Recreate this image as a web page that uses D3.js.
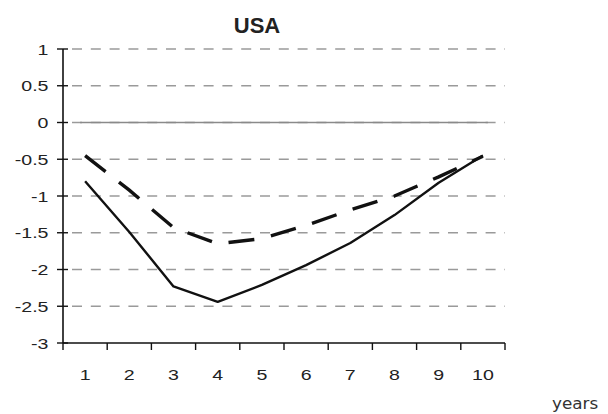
<!DOCTYPE html>
<html>
<head>
<meta charset="utf-8">
<script src="https://cdn.jsdelivr.net/npm/d3@7/dist/d3.min.js"></script>
<style>
  html, body { margin: 0; padding: 0; background: #fff; }
  svg { display: block; }
</style>
</head>
<body>
<svg id="chart" width="608" height="414"></svg>
<script>
// Years after the shock
const years = [1, 2, 3, 4, 5, 6, 7, 8, 9, 10];
// Response paths (percent deviation)
const solidSeries = [-0.80, -1.49, -2.23, -2.44, -2.21, -1.94, -1.64, -1.26, -0.82, -0.45];
const dashedSeries = [-0.45, -0.92, -1.43, -1.65, -1.58, -1.40, -1.19, -1.00, -0.74, -0.46];
// Zero reference line
const zeroSeries = [0, 0, 0, 0, 0, 0, 0, 0, 0, 0];
// Value axis ticks
const yTicks = [1, 0.5, 0, -0.5, -1, -1.5, -2, -2.5, -3];

const svg = d3.select("#chart");
const plot = { left: 63, right: 505, top: 49, bottom: 343 };
const labelStretch = 1.35;

const x = d3.scaleBand().domain(years).range([plot.left, plot.right]);
const y = d3.scaleLinear().domain([-3, 1]).range([plot.bottom, plot.top]);
const cx = d => x(d) + x.bandwidth() / 2;

// dashed gridlines
svg.append("g").selectAll("line")
  .data(yTicks.filter(t => t !== -3))
  .join("line")
  .attr("x1", plot.left).attr("x2", plot.right)
  .attr("y1", d => y(d)).attr("y2", d => y(d))
  .attr("stroke", "#9a9a9a")
  .attr("stroke-width", 1.6)
  .attr("stroke-dasharray", "10,8.8")
  .attr("stroke-dashoffset", -9);

// zero reference line
svg.append("line")
  .attr("x1", cx(years[0]) - 5).attr("x2", cx(years[years.length - 1]) + 5)
  .attr("y1", y(zeroSeries[0])).attr("y2", y(zeroSeries[0]))
  .attr("stroke", "#8a8a8a")
  .attr("stroke-width", 1.6);

// axes
const axisColor = "#111";
svg.append("line")
  .attr("x1", plot.left).attr("x2", plot.left).attr("y1", plot.top).attr("y2", plot.bottom)
  .attr("stroke", axisColor).attr("stroke-width", 1.6);
svg.append("line")
  .attr("x1", plot.left).attr("x2", plot.right).attr("y1", plot.bottom).attr("y2", plot.bottom)
  .attr("stroke", axisColor).attr("stroke-width", 1.6);

// y ticks (cross style) and labels
svg.append("g").selectAll("line")
  .data(yTicks)
  .join("line")
  .attr("x1", plot.left - 6).attr("x2", plot.left + 5)
  .attr("y1", d => y(d)).attr("y2", d => y(d))
  .attr("stroke", axisColor).attr("stroke-width", 1.4);

svg.append("g").selectAll("text")
  .data(yTicks)
  .join("text")
  .attr("transform", d => `translate(48.5,${y(d) + 5.5}) scale(${labelStretch},1)`)
  .attr("text-anchor", "end")
  .attr("font-family", "'Liberation Sans', Arial, sans-serif")
  .attr("font-size", 14.5)
  .attr("fill", "#222")
  .text(d => String(d));

// x ticks at band boundaries
const boundaries = years.map(d => x(d)).concat([x(years[years.length - 1]) + x.bandwidth()]);
svg.append("g").selectAll("line")
  .data(boundaries)
  .join("line")
  .attr("x1", d => d).attr("x2", d => d)
  .attr("y1", plot.bottom).attr("y2", plot.bottom + 7)
  .attr("stroke", axisColor).attr("stroke-width", 1.4);

svg.append("g").selectAll("text")
  .data(years)
  .join("text")
  .attr("transform", d => `translate(${cx(d)},379.5) scale(${labelStretch},1)`)
  .attr("text-anchor", "middle")
  .attr("font-family", "'Liberation Sans', Arial, sans-serif")
  .attr("font-size", 14.5)
  .attr("fill", "#222")
  .text(d => d);

// series lines
const line = d3.line().x((d, i) => cx(years[i])).y(d => y(d));

svg.append("path")
  .datum(solidSeries)
  .attr("d", line)
  .attr("fill", "none")
  .attr("stroke", "#111")
  .attr("stroke-width", 2.4)
  .attr("stroke-linejoin", "round");

svg.append("path")
  .datum(dashedSeries)
  .attr("d", line)
  .attr("fill", "none")
  .attr("stroke", "#111")
  .attr("stroke-width", 3.4)
  .attr("stroke-dasharray", "26,17");

// title
svg.append("text")
  .attr("x", 257).attr("y", 33)
  .attr("text-anchor", "middle")
  .attr("font-family", "'Liberation Sans', Arial, sans-serif")
  .attr("font-weight", "bold")
  .attr("font-size", 22)
  .attr("fill", "#222")
  .text("USA");

// unit label
svg.append("text")
  .attr("transform", "translate(552,409) scale(1.12,1)")
  .attr("font-family", "'DejaVu Sans', sans-serif")
  .attr("font-size", 15)
  .attr("fill", "#333")
  .text("years");
</script>
</body>
</html>
